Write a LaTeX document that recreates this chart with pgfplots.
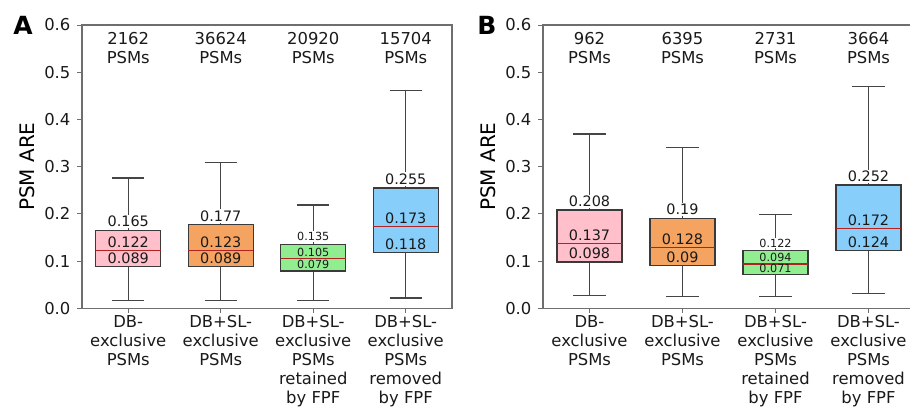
\documentclass[border=0pt]{standalone}
\usepackage{pgfplots}
\pgfplotsset{compat=1.18}
\usepgfplotslibrary{statistics}
\usepackage{fontspec}
\setmainfont{DejaVu Sans}
\definecolor{boxpink}{HTML}{FFC0CB}
\definecolor{boxorange}{HTML}{F4A460}
\definecolor{boxgreen}{HTML}{90EE90}
\definecolor{boxblue}{HTML}{87CEFA}
\definecolor{edgegray}{HTML}{3A3A3A}
\definecolor{whiskgray}{HTML}{454545}
\definecolor{spinegray}{HTML}{6E6E6E}
\definecolor{medred}{HTML}{B22222}
\definecolor{txt}{HTML}{1A1A1A}
\newcommand{\mainfs}{\fontsize{8.2pt}{9.5pt}\selectfont}
\newcommand{\labfs}{\fontsize{7.2pt}{8pt}\selectfont}
\newcommand{\smallfs}{\fontsize{5.6pt}{6.5pt}\selectfont}
\tikzset{
  q3lab/.style={font=\labfs, text=txt, anchor=base, fill=white, inner sep=0.6pt, yshift=1.8pt},
  inlab/.style={font=\labfs, text=txt, anchor=base, inner sep=0pt, yshift=1.6pt},
  q3sm/.style={font=\smallfs, text=txt, anchor=base, fill=white, inner sep=0.6pt, yshift=1.8pt},
  insm/.style={font=\smallfs, text=txt, anchor=base, inner sep=0pt, yshift=1.2pt},
  cnt/.style={font=\mainfs, text=txt, align=center, anchor=north, inner sep=0pt, yshift=-3.6pt},
}
\pgfplotsset{
  panel/.style={
    scale only axis, height=141.65pt,
    xmin=-0.5, xmax=3.5, ymin=0, ymax=0.6,
    xtick={0,1,2,3}, ytick={0,0.1,...,0.6},
    tick pos=left, tick align=outside, major tick length=2.3pt,
    tick style={spinegray, line width=0.5pt},
    axis line style={spinegray, line width=0.55pt},
    ticklabel style={font=\mainfs, text=txt},
    yticklabel style={/pgf/number format/.cd, fixed, fixed zerofill, precision=1, assume math mode=true},
    xticklabel style={align=center, inner sep=1pt},
    xticklabels={DB-\\exclusive\\PSMs, DB+SL-\\exclusive\\PSMs, DB+SL-\\exclusive\\PSMs\\retained\\by FPF, DB+SL-\\exclusive\\PSMs\\removed\\by FPF},
    ylabel={PSM ARE}, ylabel style={font=\mainfs, text=txt},
    every axis y label/.style={at={(ticklabel cs:0.5)}, rotate=90, anchor=near ticklabel, yshift=-2pt},
    clip=false,
    boxplot/draw direction=y,
    boxplot/every box/.style={draw=edgegray, line width=0.6pt},
    boxplot/every whisker/.style={draw=whiskgray, line width=0.6pt},
    boxplot/every median/.style={draw=medred, line width=0.6pt},
  },
}
\begin{document}
\begin{tikzpicture}
% ---------------- Panel A ----------------
\begin{axis}[panel, width=185pt, at={(41pt,49.35pt)}, anchor=south west]
\addplot[fill=boxpink, boxplot prepared={draw position=0, box extend=0.7, whisker extend=0.35,
  lower whisker=0.017, lower quartile=0.089, median=0.122, upper quartile=0.165, upper whisker=0.276}] coordinates {};
\addplot[fill=boxorange, boxplot prepared={draw position=1, box extend=0.7, whisker extend=0.35,
  lower whisker=0.017, lower quartile=0.089, median=0.123, upper quartile=0.177, upper whisker=0.309}] coordinates {};
\addplot[fill=boxgreen, boxplot prepared={draw position=2, box extend=0.7, whisker extend=0.35,
  lower whisker=0.017, lower quartile=0.079, median=0.105, upper quartile=0.135, upper whisker=0.219}] coordinates {};
\addplot[fill=boxblue, boxplot prepared={draw position=3, box extend=0.7, whisker extend=0.35,
  lower whisker=0.022, lower quartile=0.118, median=0.173, upper quartile=0.255, upper whisker=0.461}] coordinates {};
\node[q3lab] at (axis cs:0,0.165) {0.165};
\node[inlab] at (axis cs:0,0.122) {0.122};
\node[inlab] at (axis cs:0,0.089) {0.089};
\node[q3lab] at (axis cs:1,0.177) {0.177};
\node[inlab] at (axis cs:1,0.123) {0.123};
\node[inlab] at (axis cs:1,0.089) {0.089};
\node[q3sm] at (axis cs:2,0.135) {0.135};
\node[insm] at (axis cs:2,0.105) {0.105};
\node[insm] at (axis cs:2,0.079) {0.079};
\node[q3lab] at (axis cs:3,0.255) {0.255};
\node[inlab] at (axis cs:3,0.173) {0.173};
\node[inlab] at (axis cs:3,0.118) {0.118};
\node[cnt] at (axis cs:0,0.6) {2162\\PSMs};
\node[cnt] at (axis cs:1,0.6) {36624\\PSMs};
\node[cnt] at (axis cs:2,0.6) {20920\\PSMs};
\node[cnt] at (axis cs:3,0.6) {15704\\PSMs};
\end{axis}
% ---------------- Panel B ----------------
\begin{axis}[panel, width=186pt, at={(271.5pt,49.35pt)}, anchor=south west]
\addplot[fill=boxpink, boxplot prepared={draw position=0, box extend=0.7, whisker extend=0.35,
  lower whisker=0.027, lower quartile=0.098, median=0.137, upper quartile=0.208, upper whisker=0.369}] coordinates {};
\addplot[fill=boxorange, boxplot prepared={draw position=1, box extend=0.7, whisker extend=0.35,
  lower whisker=0.025, lower quartile=0.090, median=0.128, upper quartile=0.190, upper whisker=0.340}] coordinates {};
\addplot[fill=boxgreen, boxplot prepared={draw position=2, box extend=0.7, whisker extend=0.35,
  lower whisker=0.025, lower quartile=0.071, median=0.094, upper quartile=0.122, upper whisker=0.198}] coordinates {};
\addplot[fill=boxblue, boxplot prepared={draw position=3, box extend=0.7, whisker extend=0.35,
  lower whisker=0.032, lower quartile=0.122, median=0.169, upper quartile=0.261, upper whisker=0.469}] coordinates {};
\node[q3lab] at (axis cs:0,0.208) {0.208};
\node[inlab] at (axis cs:0,0.137) {0.137};
\node[inlab] at (axis cs:0,0.098) {0.098};
\node[q3lab] at (axis cs:1,0.190) {0.19};
\node[inlab] at (axis cs:1,0.128) {0.128};
\node[inlab] at (axis cs:1,0.090) {0.09};
\node[q3sm] at (axis cs:2,0.122) {0.122};
\node[insm] at (axis cs:2,0.094) {0.094};
\node[insm] at (axis cs:2,0.071) {0.071};
\node[q3lab] at (axis cs:3,0.261) {0.252};
\node[inlab] at (axis cs:3,0.169) {0.172};
\node[inlab] at (axis cs:3,0.122) {0.124};
\node[cnt] at (axis cs:0,0.6) {962\\PSMs};
\node[cnt] at (axis cs:1,0.6) {6395\\PSMs};
\node[cnt] at (axis cs:2,0.6) {2731\\PSMs};
\node[cnt] at (axis cs:3,0.6) {3664\\PSMs};
\end{axis}
\node[font=\fontsize{12.5pt}{14pt}\selectfont\bfseries, text=black, anchor=north, inner sep=0pt] at (11.5pt,195.5pt) {A};
\node[font=\fontsize{12.5pt}{14pt}\selectfont\bfseries, text=black, anchor=north, inner sep=0pt] at (243.5pt,195.5pt) {B};
\pgfresetboundingbox
\useasboundingbox (0,0) rectangle (455pt,203.5pt);
\end{tikzpicture}
\end{document}
